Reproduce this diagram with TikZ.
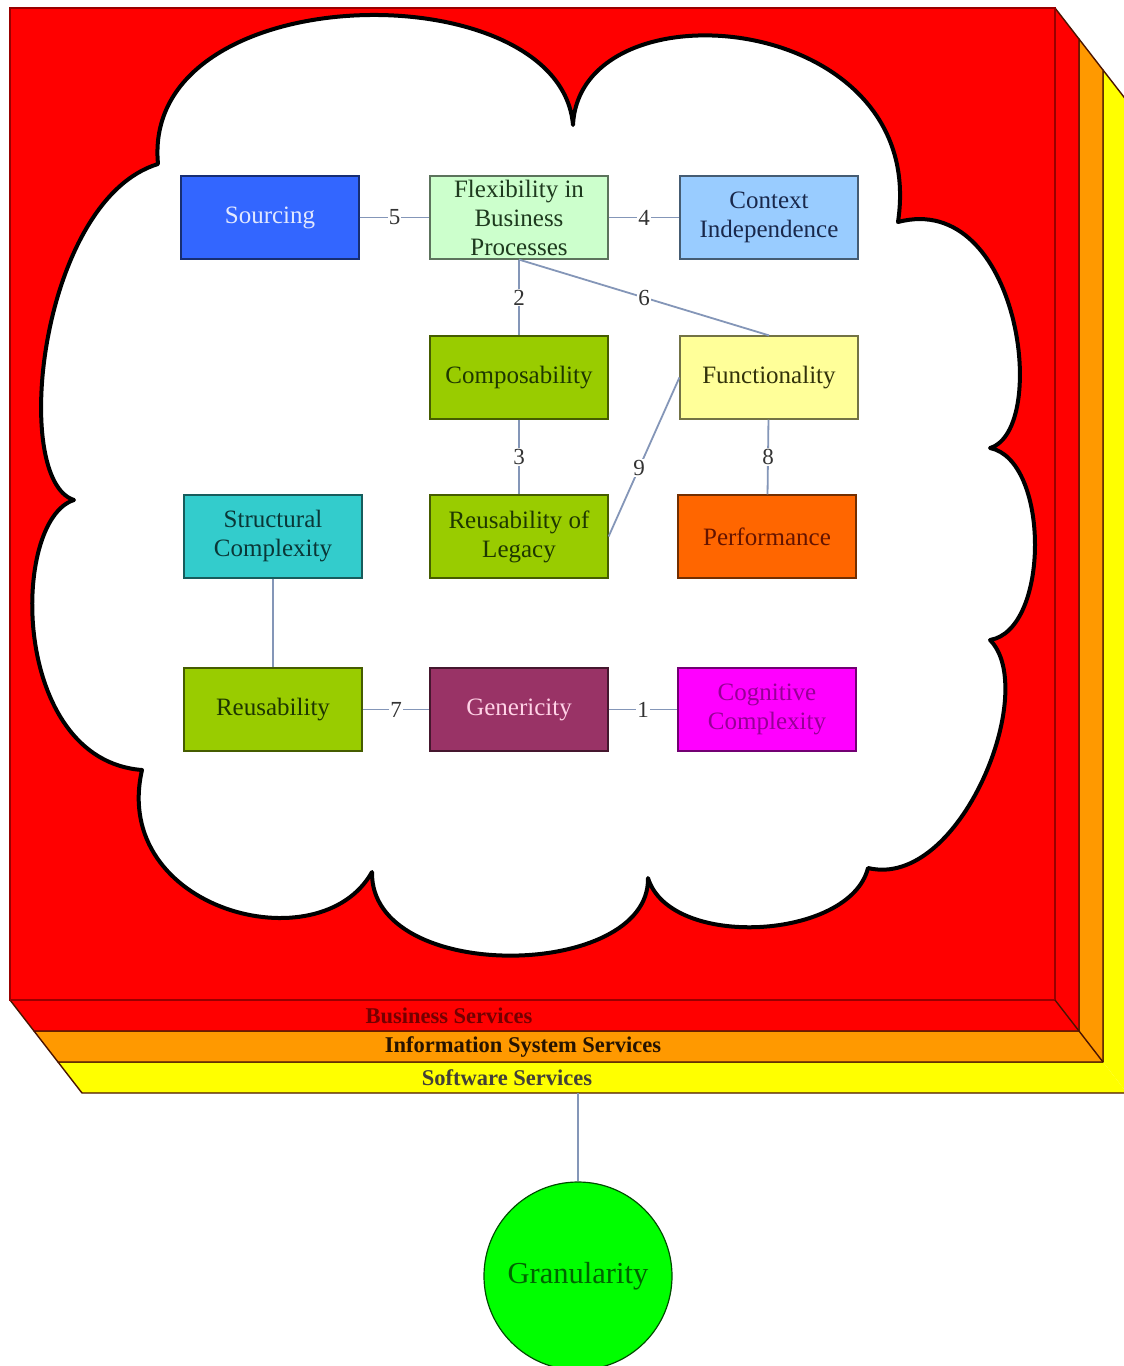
\documentclass[tikz,border=0pt]{standalone}
\usepackage{fontspec}
\setmainfont{Liberation Serif}
\definecolor{slabred}{HTML}{FF0000}
\definecolor{slaborange}{HTML}{FF9900}
\definecolor{slabyellow}{HTML}{FFFF00}
\definecolor{slabedge}{HTML}{4A1400}
\definecolor{connc}{HTML}{8496B8}
% fills of the attribute boxes
\definecolor{fsrc}{HTML}{3366FF}
\definecolor{fflex}{HTML}{CCFFCC}
\definecolor{fctx}{HTML}{99CCFF}
\definecolor{folive}{HTML}{99CC00}
\definecolor{ffunc}{HTML}{FFFF99}
\definecolor{fstruct}{HTML}{33CCCC}
\definecolor{fperf}{HTML}{FF6600}
\definecolor{fgen}{HTML}{993366}
\definecolor{fcog}{HTML}{FF00FF}
\definecolor{fgran}{HTML}{00FF00}
% text colours
\definecolor{tsrc}{HTML}{E1E8FF}
\definecolor{tflex}{HTML}{1E3A1E}
\definecolor{tctx}{HTML}{19284B}
\definecolor{tolive}{HTML}{1E3700}
\definecolor{tfunc}{HTML}{32320A}
\definecolor{tstruct}{HTML}{0A3737}
\definecolor{tperf}{HTML}{641400}
\definecolor{tgen}{HTML}{FFD2E6}
\definecolor{tcog}{HTML}{960096}
\definecolor{tgran}{HTML}{006400}
\begin{document}
\begin{tikzpicture}[x=1pt,y=-1pt,
  slab/.style={draw=slabedge, line width=1.4pt, line join=round},
  concept/.style 2 args={draw=#1!45!black, fill=#1, text=#2, line width=1.2pt, minimum width=178pt,
    minimum height=83pt, inner sep=2pt, align=center,
    font=\fontsize{25}{29}\selectfont},
  conn/.style={draw=connc, line width=1.8pt},
  num/.style={fill=white, inner sep=1.2pt, font=\fontsize{23}{23}\selectfont, text=black!80},
  layerlabel/.style={font=\bfseries\fontsize{22.5}{22.5}\selectfont, inner sep=0pt}]
\useasboundingbox (0,0) rectangle (1124,1366);

% stacked service layers: yellow at the back, red in front
\fill[slabyellow] (1103,70) -- (1127,101) -- (1127,1093) -- (1103,1062) -- cycle;
\fill[slabyellow] (58,1062) -- (1103,1062) -- (1127,1093) -- (82,1093) -- cycle;
\draw[slab] (1103,70) -- (1127,101) -- (1127,1093) -- (82,1093) -- (58,1062) -- (1103,1062) -- cycle;
\fill[slaborange] (1079,39) -- (1103,70) -- (1103,1062) -- (1079,1031) -- cycle;
\fill[slaborange] (34,1031) -- (1079,1031) -- (1103,1062) -- (58,1062) -- cycle;
\draw[slab] (1079,39) -- (1103,70) -- (1103,1062) -- (58,1062) -- (34,1031) -- (1079,1031) -- cycle;
\fill[slabred] (1055,8) -- (1079,39) -- (1079,1031) -- (1055,1000) -- cycle;
\fill[slabred] (10,1000) -- (1055,1000) -- (1079,1031) -- (34,1031) -- cycle;
\draw[slab] (1055,8) -- (1079,39) -- (1079,1031) -- (34,1031) -- (10,1000) -- (1055,1000) -- cycle;
\filldraw[fill=slabred, draw=slabred!60!black, line width=1.4pt] (10,8) rectangle (1055,1000);
\draw[slab] (1055,1000) -- (1079,1031);
\draw[slab] (1079,1031) -- (1103,1062);

\node[layerlabel, text=slabred!45!black] (bs) at (449,1016) {Business Services};
\node[layerlabel, text=black!85!orange] (iss) at (523,1047) {Information System Services};
\node[layerlabel, text=black!85!yellow] (sws) at (507,1078) {Software Services};
\coordinate (swbottom) at (578,1093);

% the cloud holding the quality attributes
\filldraw[fill=white, draw=black, line width=4pt, line join=round]
  (158,164)
  .. controls (140,-25) and (560,-30) .. (573,125)
  .. controls (580,-20) and (930,10) .. (898,222)
  .. controls (1020,190) and (1050,430) .. (990,448)
  .. controls (1050,460) and (1050,630) .. (990,640)
  .. controls (1040,690) and (960,890) .. (868,868)
  .. controls (850,940) and (670,950) .. (648,878)
  .. controls (650,980) and (370,985) .. (372,872)
  .. controls (320,965) and (110,910) .. (142,770)
  .. controls (10,760) and (10,520) .. (74,500)
  .. controls (10,480) and (40,200) .. (158,164)
  -- cycle;

% quality attributes
\node[concept={fsrc}{tsrc}] (src) at (270,217.5) {Sourcing};
\node[concept={fflex}{tflex}] (flex) at (519,217.5) {Flexibility in\\Business\\Processes};
\node[concept={fctx}{tctx}] (ctx) at (769,217.5) {Context\\Independence};
\node[concept={folive}{tolive}] (comp) at (519,377.5) {Composability};
\node[concept={ffunc}{tfunc}] (func) at (769,377.5) {Functionality};
\node[concept={fstruct}{tstruct}] (struct) at (273,536.5) {Structural\\Complexity};
\node[concept={folive}{tolive}] (legacy) at (519,536.5) {Reusability of\\Legacy};
\node[concept={fperf}{tperf}] (perf) at (767,536.5) {Performance};
\node[concept={folive}{tolive}] (reuse) at (273,709.5) {Reusability};
\node[concept={fgen}{tgen}] (gen) at (519,709.5) {Genericity};
\node[concept={fcog}{tcog}] (cog) at (767,709.5) {Cognitive\\Complexity};

% relations between attributes
\draw[conn] (src) -- node[num] {5} (flex);
\draw[conn] (flex) -- node[num] {4} (ctx);
\draw[conn] (flex) -- node[num] {2} (comp);
\draw[conn] (flex.south) -- node[num] {6} (func.north);
\draw[conn] (comp) -- node[num] {3} (legacy);
\draw[conn] (legacy.east) -- node[num, pos=0.43] {9} (func.west);
\draw[conn] (func) -- node[num] {8} (perf);
\draw[conn] (struct) -- (reuse);
\draw[conn] (reuse) -- node[num] {7} (gen);
\draw[conn] (gen) -- node[num] {1} (cog);

% granularity
\node[circle, draw=fgran!30!black, fill=fgran, line width=1.2pt,
  minimum size=188pt, inner sep=0pt, text=tgran,
  font=\fontsize{30.5}{30.5}\selectfont] (gran) at (578,1276) {Granularity};
\draw[conn] (swbottom) -- (gran);
\end{tikzpicture}
\end{document}
